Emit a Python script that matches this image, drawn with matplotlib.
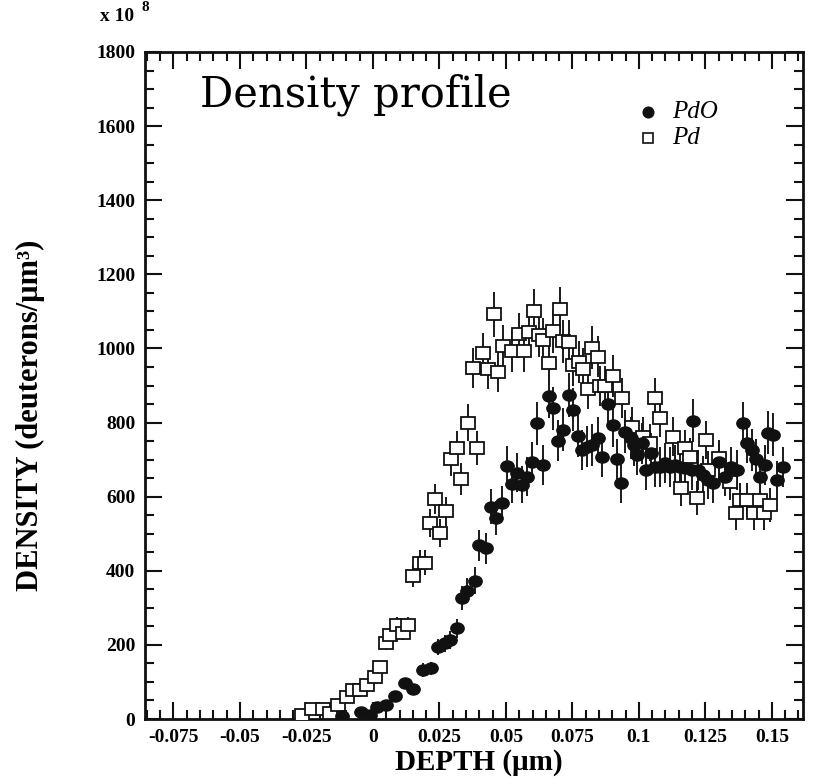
import matplotlib
matplotlib.use("Agg")
import matplotlib.pyplot as plt
from matplotlib.markers import MarkerStyle
from matplotlib.ticker import MultipleLocator, FuncFormatter
from matplotlib.transforms import Affine2D

SERIF = "Liberation Serif"
plt.rcParams["font.family"] = SERIF

# deuteron density vs depth (units of 1e8 deuterons/um^3)
pdo_x = [-0.0118, -0.0043, -0.0011, 0.0014, 0.0051, 0.0083, 0.0122, 0.0152,
         0.0189, 0.0220, 0.0246, 0.0271, 0.0290, 0.0315, 0.0335, 0.0355,
         0.0383, 0.0400, 0.0425, 0.0444, 0.0462, 0.0484, 0.0505, 0.0521,
         0.0540, 0.0559, 0.0578, 0.0597, 0.0618, 0.0640, 0.0663, 0.0678,
         0.0697, 0.0716, 0.0738, 0.0751, 0.0772, 0.0785, 0.0803, 0.0824,
         0.0847, 0.0863, 0.0882, 0.0901, 0.0916, 0.0931, 0.0947, 0.0969,
         0.0981, 0.0991, 0.1010, 0.1026, 0.1044, 0.1060, 0.1079, 0.1098,
         0.1117, 0.1135, 0.1154, 0.1173, 0.1198, 0.1204, 0.1223, 0.1242,
         0.1261, 0.1280, 0.1302, 0.1323, 0.1348, 0.1370, 0.1392, 0.1405,
         0.1424, 0.1440, 0.1455, 0.1474, 0.1486, 0.1505, 0.1518, 0.1540]
pdo_y = [8, 18, 11, 33, 38, 62, 96, 80,
         132, 137, 195, 204, 213, 245, 326, 346,
         373, 469, 461, 573, 542, 582, 684, 634,
         665, 632, 654, 694, 798, 686, 872, 838,
         751, 781, 874, 834, 764, 726, 735, 740,
         758, 706, 849, 793, 702, 636, 775, 758,
         740, 713, 744, 672, 717, 681, 681, 690,
         681, 686, 681, 677, 672, 805, 672, 659,
         645, 636, 694, 654, 681, 672, 798, 746,
         726, 701, 654, 686, 773, 767, 645, 681]
pdo_err = [6, 8, 6, 10, 10, 12, 15, 14,
           18, 18, 22, 22, 24, 26, 32, 34,
           36, 42, 42, 48, 46, 48, 52, 50,
           52, 50, 52, 54, 58, 54, 60, 58,
           56, 58, 60, 58, 56, 54, 56, 56,
           56, 54, 60, 58, 54, 52, 58, 56,
           56, 54, 56, 54, 54, 54, 54, 54,
           54, 54, 54, 54, 54, 58, 54, 52,
           52, 52, 54, 52, 54, 54, 58, 56,
           56, 54, 52, 54, 58, 58, 52, 54]

pd_x = [-0.0268, -0.0230, -0.0188, -0.0160, -0.0130, -0.0099, -0.0075, -0.0050,
        -0.0024, 0.0008, 0.0026, 0.0049, 0.0064, 0.0089, 0.0112, 0.0132,
        0.0149, 0.0177, 0.0196, 0.0214, 0.0233, 0.0252, 0.0274, 0.0292,
        0.0315, 0.0330, 0.0357, 0.0377, 0.0390, 0.0415, 0.0434, 0.0456,
        0.0471, 0.0490, 0.0521, 0.0550, 0.0569, 0.0588, 0.0606, 0.0625,
        0.0640, 0.0663, 0.0678, 0.0703, 0.0713, 0.0738, 0.0751, 0.0776,
        0.0788, 0.0807, 0.0823, 0.0847, 0.0853, 0.0873, 0.0901, 0.0935,
        0.0973, 0.1016, 0.1041, 0.1060, 0.1079, 0.1129, 0.1160, 0.1173,
        0.1194, 0.1217, 0.1252, 0.1261, 0.1302, 0.1342, 0.1365, 0.1380,
        0.1405, 0.1432, 0.1455, 0.1471, 0.1492]
pd_y = [11, 27, 27, 16, 38, 60, 78, 78,
        92, 113, 140, 205, 226, 254, 233, 254,
        386, 422, 422, 529, 594, 503, 560, 702,
        732, 648, 800, 946, 732, 987, 945, 1092,
        937, 1007, 993, 1038, 993, 1044, 1101, 1035,
        1023, 962, 1047, 1107, 1020, 1018, 955, 964,
        944, 890, 1002, 978, 899, 899, 926, 866,
        789, 762, 745, 867, 812, 762, 623, 731,
        708, 596, 753, 672, 704, 640, 555, 591,
        591, 555, 591, 555, 578]
pd_err = [6, 8, 8, 6, 10, 12, 12, 12,
          14, 14, 16, 18, 20, 20, 20, 20,
          30, 34, 34, 38, 40, 38, 40, 46,
          46, 44, 50, 54, 46, 56, 54, 60,
          54, 56, 56, 58, 56, 58, 60, 58,
          58, 56, 58, 60, 58, 58, 56, 56,
          56, 54, 58, 56, 54, 54, 56, 54,
          52, 52, 50, 54, 52, 52, 48, 50,
          50, 46, 52, 50, 50, 48, 44, 46,
          46, 44, 46, 44, 46]

XTICK_MAJOR, XTICK_MINOR = 0.025, 0.005
YTICK_MAJOR, YTICK_MINOR = 200, 50
INK = "#111111"

fig = plt.figure(figsize=(8.25, 7.81), dpi=100)
ax = fig.add_axes([145 / 825, 1 - 719 / 781, 658 / 825, 667 / 781])

# slightly wide markers, as in the printed plot
circ = MarkerStyle("o", transform=Affine2D().scale(1.2, 1.0))
sq = MarkerStyle("s", transform=Affine2D().scale(1.25, 1.0))

ax.errorbar(pd_x, pd_y, yerr=pd_err, fmt="none", ecolor="#1a1a1a",
            elinewidth=1.4, capsize=0, zorder=2)
ax.errorbar(pdo_x, pdo_y, yerr=pdo_err, fmt="none", ecolor="#1a1a1a",
            elinewidth=1.4, capsize=0, zorder=2)
ax.plot(pd_x, pd_y, ls="none", marker=sq, ms=8, mfc="white", mec=INK,
        mew=1.3, zorder=3)
ax.plot(pdo_x, pdo_y, ls="none", marker=circ, ms=8, mfc=INK, mec=INK, zorder=4)

ax.set_xlim(-0.0857, 0.1617)
ax.set_ylim(0, 1800)

ax.xaxis.set_major_locator(MultipleLocator(XTICK_MAJOR))
ax.xaxis.set_minor_locator(MultipleLocator(XTICK_MINOR))
ax.yaxis.set_major_locator(MultipleLocator(YTICK_MAJOR))
ax.yaxis.set_minor_locator(MultipleLocator(YTICK_MINOR))
ax.xaxis.set_major_formatter(FuncFormatter(lambda v, p: f"{round(v, 4) + 0.0:g}"))
ax.yaxis.set_major_formatter(FuncFormatter(lambda v, p: f"{v:.0f}"))

ax.tick_params(which="both", direction="in", top=True, right=True,
               width=1.5, color=INK)
ax.tick_params(which="major", length=12, labelsize=14, pad=7)
ax.tick_params(which="minor", length=6.5)
for lab in ax.get_xticklabels() + ax.get_yticklabels():
    lab.set_fontweight("bold")
for s in ax.spines.values():
    s.set_linewidth(2.0)
    s.set_color(INK)

ax.set_xlabel("DEPTH (μm)", fontsize=21, fontweight="bold")
ax.xaxis.set_label_coords(0.508, -0.045)
ax.xaxis.label.set_va("top")
ax.set_ylabel("DENSITY (deuterons/μm³)", fontsize=22, fontweight="bold")
ax.yaxis.set_label_coords(-0.152, 0.455)

fig.text(100 / 825, 1 - 21 / 781, "x 10", fontsize=14, fontweight="bold",
         va="baseline")
fig.text(141 / 825, 1 - 11 / 781, "8", fontsize=11, fontweight="bold",
         va="baseline")
fig.text(200 / 825, 1 - 107 / 781, "Density profile", fontsize=30,
         family="DejaVu Serif", va="baseline")

# key, drawn in axes fractions
KEY_X, KEY_TX = (648 - 145) / 658, (672 - 145) / 658
key_rows = [((719 - 112) / 667, "PdO", "o", INK, 7.5),
            ((719 - 138) / 667, "Pd", "s", "white", 7.0)]
for ky, name, mk, fc, ms in key_rows:
    ax.plot([KEY_X], [ky], transform=ax.transAxes, ls="none", marker=mk,
            ms=ms, mfc=fc, mec=INK, mew=1.2, clip_on=False)
    ax.text(KEY_TX, ky, name, transform=ax.transAxes, fontsize=18,
            style="italic", va="center", ha="left")

fig.savefig("out.png", dpi=100)
